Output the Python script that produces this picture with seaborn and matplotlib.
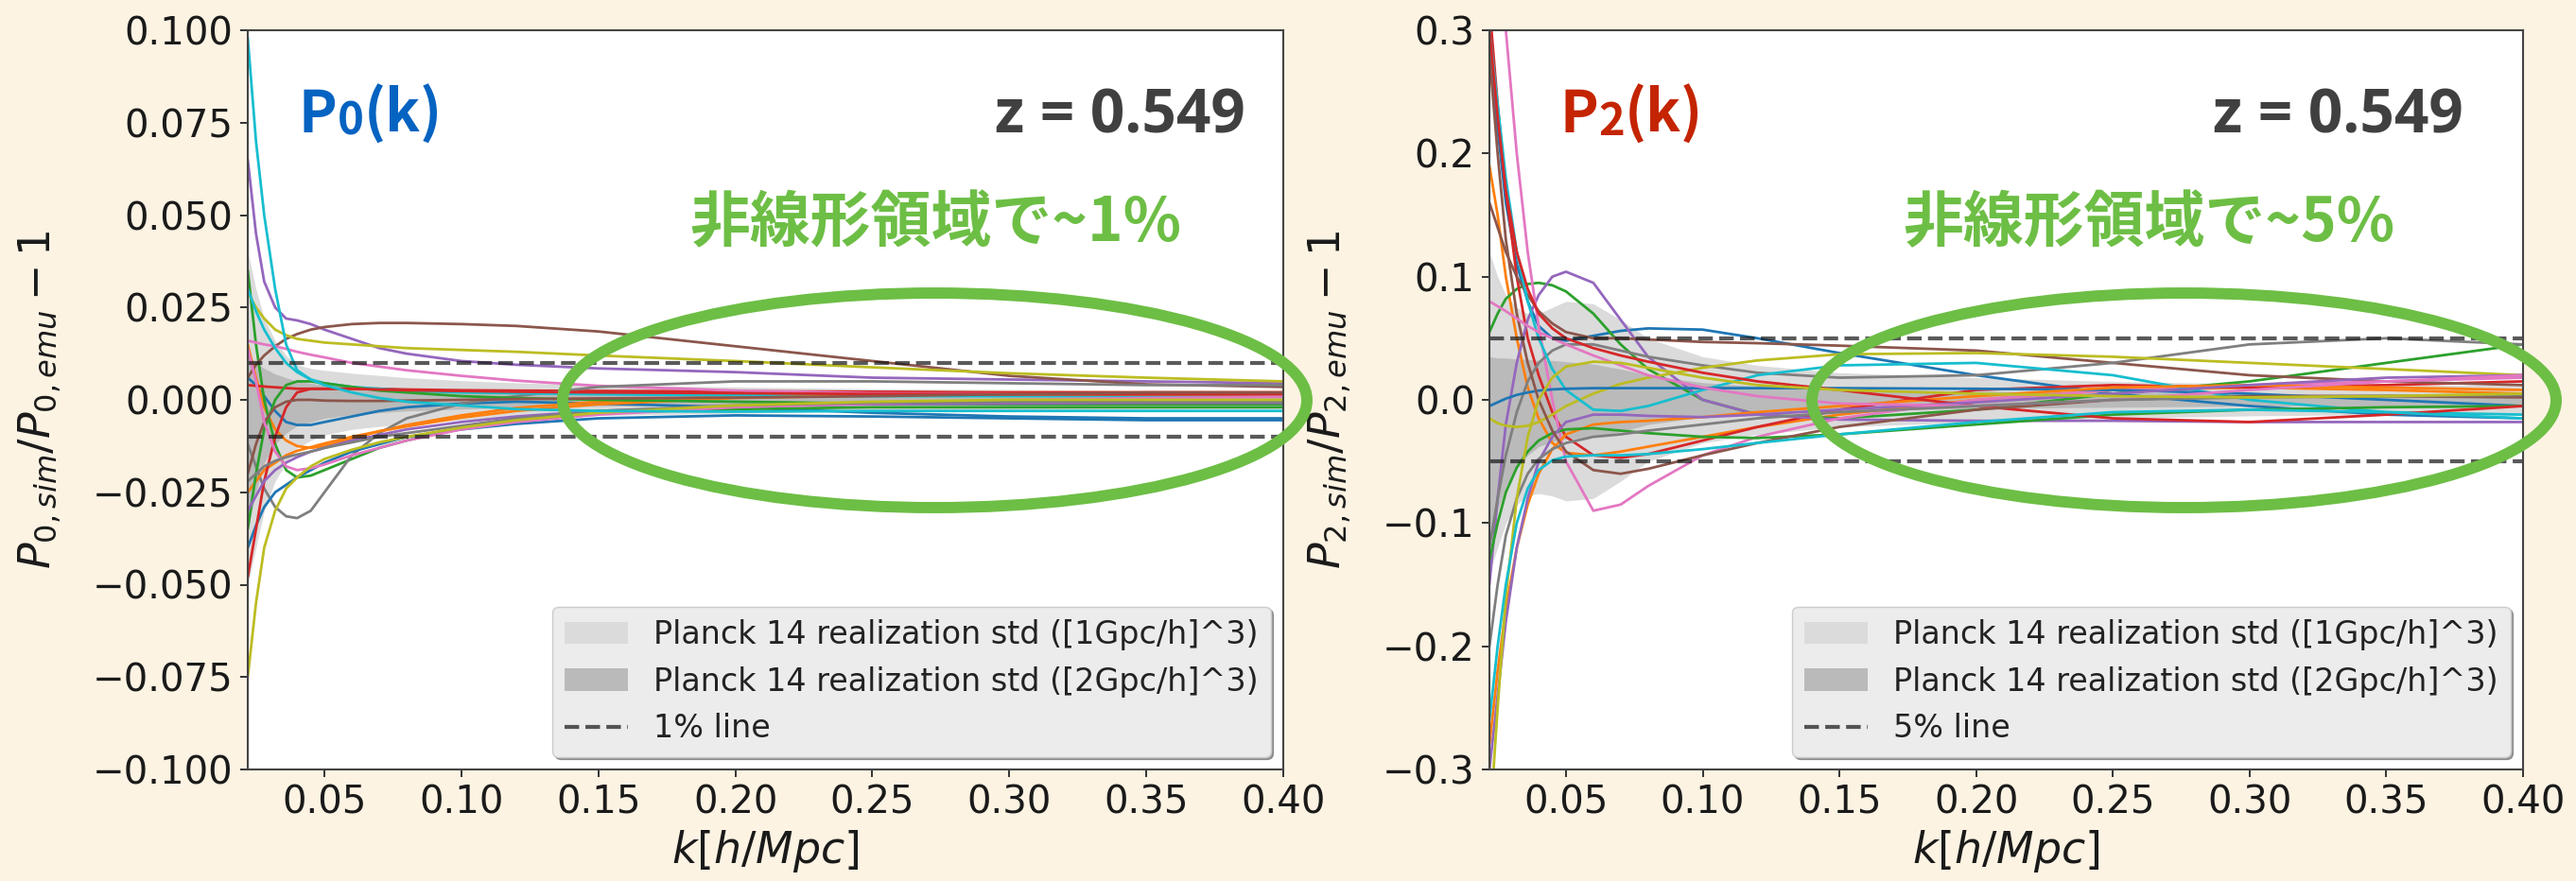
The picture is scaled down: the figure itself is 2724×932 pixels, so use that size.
import matplotlib
matplotlib.use('Agg')
import matplotlib.pyplot as plt
from matplotlib.patches import Ellipse
import numpy as np
import pandas as pd
import seaborn as sns

# wavenumber nodes shared by every curve [h/Mpc]
K = [0.022, 0.025, 0.028, 0.032, 0.036, 0.040, 0.045, 0.050, 0.060, 0.070,
     0.080, 0.100, 0.120, 0.150, 0.200, 0.250, 0.300, 0.350, 0.400]

# ---- monopole P0: sim/emu - 1 ----
p0_blue_a = [0.006, 0.004, 0.001, -0.003, -0.006, -0.0068, -0.0068, -0.006, -0.0045, -0.003,
             -0.002, -0.001, -0.0005, -0.001, -0.002, -0.0035, -0.0045, -0.005, -0.005]
p0_orange_a = [0.015, 0.006, -0.002, -0.008, -0.011, -0.0125, -0.013, -0.0125, -0.0105, -0.0085,
               -0.0068, -0.0042, -0.0022, -0.0005, 0.001, 0.0018, 0.002, 0.002, 0.002]
p0_green_a = [0.035, 0.015, 0.0, -0.012, -0.019, -0.021, -0.0205, -0.019, -0.016, -0.013,
              -0.011, -0.0075, -0.0055, -0.0035, -0.0025, -0.002, -0.002, -0.002, -0.002]
p0_red_a = [0.004, 0.0038, 0.0036, 0.0034, 0.0032, 0.003, 0.003, 0.003, 0.003, 0.003,
            0.0028, 0.0026, 0.0025, 0.0024, 0.0023, 0.0022, 0.002, 0.002, 0.002]
p0_purple_a = [0.065, 0.045, 0.032, 0.025, 0.022, 0.0215, 0.0205, 0.019, 0.0165, 0.014,
               0.0125, 0.0105, 0.0095, 0.0085, 0.0075, 0.006, 0.0055, 0.005, 0.0045]
p0_brown_a = [0.006, 0.0095, 0.012, 0.0145, 0.0165, 0.0178, 0.019, 0.0197, 0.0205, 0.0208,
              0.0208, 0.0205, 0.020, 0.0185, 0.0145, 0.0105, 0.0065, 0.0042, 0.0035]
p0_pink_a = [0.016, 0.0155, 0.015, 0.0145, 0.0138, 0.013, 0.0122, 0.0115, 0.010, 0.009,
             0.008, 0.0065, 0.0052, 0.0038, 0.0025, 0.0018, 0.0015, 0.0012, 0.0012]
p0_gray_a = [-0.012, -0.018, -0.024, -0.029, -0.0315, -0.032, -0.030, -0.025, -0.015, -0.009,
             -0.005, -0.001, 0.001, 0.0035, 0.005, 0.005, 0.0045, 0.004, 0.004]
p0_olive_a = [0.029, 0.025, 0.022, 0.019, 0.0175, 0.0165, 0.016, 0.0155, 0.015, 0.0145,
              0.014, 0.0135, 0.013, 0.012, 0.0105, 0.0088, 0.0072, 0.006, 0.005]
p0_cyan_a = [0.098, 0.070, 0.050, 0.030, 0.015, 0.008, 0.0055, 0.0045, 0.0035, 0.003,
             0.0025, 0.002, 0.0018, 0.0015, 0.0012, 0.001, 0.001, 0.001, 0.001]
p0_blue_b = [-0.040, -0.034, -0.029, -0.025, -0.023, -0.021, -0.019, -0.017, -0.014, -0.012,
             -0.010, -0.008, -0.0065, -0.005, -0.0042, -0.0045, -0.005, -0.0055, -0.0055]
p0_orange_b = [-0.025, -0.022, -0.019, -0.017, -0.015, -0.0138, -0.0128, -0.0118, -0.010, -0.0085,
               -0.0072, -0.0048, -0.003, -0.0012, 0.0005, 0.0012, 0.0015, 0.0015, 0.0015]
p0_green_b = [-0.035, -0.020, -0.008, 0.0, 0.004, 0.005, 0.005, 0.0045, 0.0035, 0.0025,
              0.002, 0.001, 0.0005, 0.0, -0.0005, -0.001, -0.0012, -0.0012, -0.0012]
p0_red_b = [-0.048, -0.035, -0.022, -0.010, -0.002, 0.002, 0.003, 0.003, 0.003, 0.0028,
            0.0026, 0.0024, 0.0022, 0.002, 0.0018, 0.0016, 0.0015, 0.0015, 0.0015]
p0_purple_b = [-0.030, -0.026, -0.022, -0.019, -0.017, -0.0155, -0.014, -0.013, -0.011, -0.0095,
               -0.008, -0.006, -0.0045, -0.003, -0.0018, -0.0012, -0.001, -0.0008, -0.0008]
p0_brown_b = [-0.020, -0.012, -0.006, -0.002, -0.0005, 0.0, 0.0, -0.0002, -0.0003, -0.0003,
              -0.0002, 0.0, 0.0002, 0.0004, 0.0006, 0.001, 0.0015, 0.002, 0.002]
p0_pink_b = [0.014, 0.005, -0.006, -0.014, -0.018, -0.019, -0.0185, -0.0175, -0.015, -0.013,
             -0.011, -0.008, -0.006, -0.004, -0.002, -0.001, 0.0, 0.0005, 0.0008]
p0_gray_b = [-0.022, -0.020, -0.018, -0.0165, -0.0155, -0.0148, -0.014, -0.013, -0.0115, -0.010,
             -0.009, -0.007, -0.005, -0.003, -0.0015, -0.0008, -0.0005, -0.0005, -0.0005]
p0_olive_b = [-0.075, -0.055, -0.040, -0.030, -0.024, -0.021, -0.018, -0.016, -0.0135, -0.0115,
              -0.010, -0.0075, -0.0055, -0.0035, -0.0015, -0.0005, 0.0, 0.0, 0.0]
p0_cyan_b = [0.030, 0.024, 0.019, 0.014, 0.010, 0.0075, 0.0055, 0.004, 0.002, 0.0005,
             -0.0005, -0.0015, -0.0025, -0.003, -0.0032, -0.003, -0.003, -0.003, -0.003]

# realization std bands for P0
p0_std1_hi = [0.040, 0.030, 0.022, 0.016, 0.012, 0.0095, 0.0085, 0.008, 0.0072, 0.0066,
              0.006, 0.0052, 0.0046, 0.004, 0.0035, 0.003, 0.0028, 0.0026, 0.0025]
p0_std1_lo = [-0.050, -0.040, -0.030, -0.022, -0.017, -0.013, -0.011, -0.0095, -0.008, -0.0072,
              -0.0065, -0.0055, -0.0048, -0.0042, -0.0036, -0.0031, -0.0028, -0.0026, -0.0025]
p0_std2_hi = [0.012, 0.010, 0.0085, 0.007, 0.006, 0.005, 0.0045, 0.004, 0.0035, 0.003,
              0.0027, 0.0023, 0.002, 0.0017, 0.0014, 0.0012, 0.0011, 0.001, 0.001]
p0_std2_lo = [-0.035, -0.025, -0.017, -0.012, -0.009, -0.007, -0.006, -0.005, -0.004, -0.0035,
              -0.003, -0.0025, -0.002, -0.0017, -0.0014, -0.0012, -0.0011, -0.001, -0.001]

# ---- quadrupole P2: sim/emu - 1 ----
p2_blue_a = [0.30, 0.22, 0.16, 0.11, 0.08, 0.06, 0.05, 0.048, 0.052, 0.056,
             0.058, 0.057, 0.05, 0.038, 0.02, 0.005, -0.005, -0.012, -0.015]
p2_orange_a = [0.19, 0.15, 0.10, 0.05, 0.01, -0.015, -0.035, -0.043, -0.045, -0.042,
               -0.038, -0.03, -0.022, -0.012, 0.0, 0.008, 0.01, 0.008, 0.005]
p2_green_a = [0.055, 0.07, 0.082, 0.09, 0.094, 0.095, 0.093, 0.088, 0.07, 0.045,
              0.025, 0.0, -0.012, -0.015, -0.008, 0.005, 0.015, 0.03, 0.045]
p2_red_a = [0.32, 0.24, 0.17, 0.10, 0.05, 0.02, -0.01, -0.03, -0.045, -0.047,
            -0.044, -0.033, -0.022, -0.008, 0.008, 0.012, 0.01, 0.012, 0.015]
p2_purple_a = [-0.15, -0.08, -0.02, 0.03, 0.065, 0.085, 0.10, 0.104, 0.095, 0.065,
               0.035, 0.0, -0.012, -0.016, -0.017, -0.017, -0.018, -0.018, -0.018]
p2_brown_a = [0.16, 0.14, 0.12, 0.10, 0.085, 0.072, 0.062, 0.055, 0.05, 0.05,
              0.049, 0.047, 0.046, 0.044, 0.04, 0.03, 0.02, 0.015, 0.012]
p2_pink_a = [0.45, 0.38, 0.30, 0.20, 0.12, 0.06, 0.0, -0.05, -0.09, -0.085,
             -0.07, -0.045, -0.03, -0.015, 0.0, 0.008, 0.012, 0.015, 0.018]
p2_gray_a = [-0.12, -0.08, -0.045, -0.01, 0.015, 0.03, 0.04, 0.045, 0.045, 0.04,
             0.035, 0.028, 0.022, 0.018, 0.02, 0.03, 0.045, 0.05, 0.045]
p2_olive_a = [-0.015, -0.019, -0.021, -0.022, -0.021, -0.018, -0.012, -0.005, 0.005, 0.013,
              0.018, 0.026, 0.032, 0.037, 0.038, 0.035, 0.03, 0.025, 0.02]
p2_cyan_a = [0.30, 0.24, 0.18, 0.12, 0.08, 0.05, 0.025, 0.008, -0.008, -0.009,
             -0.005, 0.008, 0.02, 0.028, 0.03, 0.02, 0.0, -0.01, -0.012]
p2_blue_b = [-0.005, -0.002, 0.001, 0.004, 0.006, 0.0075, 0.0085, 0.009, 0.0095, 0.0095,
             0.0095, 0.0095, 0.0095, 0.0095, 0.009, 0.008, 0.005, 0.0, -0.005]
p2_orange_b = [-0.28, -0.22, -0.17, -0.12, -0.085, -0.06, -0.04, -0.028, -0.02, -0.018,
               -0.017, -0.014, -0.01, -0.005, 0.003, 0.01, 0.012, 0.01, 0.008]
p2_green_b = [-0.13, -0.10, -0.075, -0.055, -0.042, -0.033, -0.027, -0.024, -0.023, -0.025,
              -0.027, -0.03, -0.031, -0.028, -0.02, -0.012, -0.008, -0.006, -0.005]
p2_red_b = [0.30, 0.23, 0.17, 0.12, 0.09, 0.07, 0.058, 0.05, 0.042, 0.036,
            0.031, 0.022, 0.015, 0.008, -0.005, -0.015, -0.018, -0.012, -0.005]
p2_purple_b = [-0.30, -0.24, -0.18, -0.12, -0.08, -0.05, -0.03, -0.018, -0.012, -0.012,
               -0.013, -0.014, -0.012, -0.008, -0.002, 0.005, 0.012, 0.018, 0.02]
p2_brown_b = [0.28, 0.20, 0.13, 0.07, 0.03, 0.0, -0.025, -0.042, -0.057, -0.06,
              -0.056, -0.045, -0.035, -0.022, -0.008, 0.0, 0.003, 0.003, 0.002]
p2_pink_b = [0.08, 0.076, 0.072, 0.066, 0.06, 0.055, 0.05, 0.045, 0.036, 0.028,
             0.02, 0.01, 0.003, -0.003, -0.005, 0.0, 0.008, 0.015, 0.02]
p2_gray_b = [-0.20, -0.15, -0.11, -0.08, -0.06, -0.048, -0.04, -0.035, -0.03, -0.028,
             -0.025, -0.02, -0.015, -0.01, -0.005, 0.0, 0.002, 0.003, 0.004]
p2_olive_b = [-0.35, -0.25, -0.16, -0.08, -0.03, 0.0, 0.018, 0.027, 0.031, 0.03,
              0.026, 0.018, 0.012, 0.008, 0.005, 0.003, 0.002, 0.003, 0.005]
p2_cyan_b = [-0.26, -0.20, -0.15, -0.10, -0.072, -0.057, -0.049, -0.046, -0.045, -0.045,
             -0.044, -0.04, -0.035, -0.028, -0.018, -0.01, -0.008, -0.01, -0.015]

p2_std1_hi = [0.12, 0.10, 0.085, 0.075, 0.07, 0.07, 0.075, 0.08, 0.078, 0.065,
              0.05, 0.035, 0.028, 0.022, 0.018, 0.015, 0.013, 0.012, 0.012]
p2_std1_lo = [-0.14, -0.12, -0.10, -0.085, -0.078, -0.076, -0.078, -0.082, -0.08, -0.066,
              -0.05, -0.035, -0.028, -0.022, -0.018, -0.015, -0.013, -0.012, -0.012]
p2_std2_hi = [0.035, 0.034, 0.034, 0.033, 0.033, 0.032, 0.032, 0.031, 0.029, 0.025,
              0.02, 0.014, 0.011, 0.009, 0.007, 0.006, 0.005, 0.005, 0.005]
p2_std2_lo = [-0.12, -0.09, -0.07, -0.055, -0.045, -0.038, -0.034, -0.032, -0.03, -0.026,
              -0.02, -0.014, -0.011, -0.009, -0.007, -0.006, -0.005, -0.005, -0.005]

P0_LIST = [p0_blue_a, p0_orange_a, p0_green_a, p0_red_a, p0_purple_a, p0_brown_a, p0_pink_a,
           p0_gray_a, p0_olive_a, p0_cyan_a, p0_blue_b, p0_orange_b, p0_green_b, p0_red_b,
           p0_purple_b, p0_brown_b, p0_pink_b, p0_gray_b, p0_olive_b, p0_cyan_b]
P2_LIST = [p2_blue_a, p2_orange_a, p2_green_a, p2_red_a, p2_purple_a, p2_brown_a, p2_pink_a,
           p2_gray_a, p2_olive_a, p2_cyan_a, p2_blue_b, p2_orange_b, p2_green_b, p2_red_b,
           p2_purple_b, p2_brown_b, p2_pink_b, p2_gray_b, p2_olive_b, p2_cyan_b]

P0_YTICKS = [-0.100, -0.075, -0.050, -0.025, 0.000, 0.025, 0.050, 0.075, 0.100]
P2_YTICKS = [-0.3, -0.2, -0.1, 0.0, 0.1, 0.2, 0.3]
XTICKS = [0.05, 0.10, 0.15, 0.20, 0.25, 0.30, 0.35, 0.40]

BG = '#FDF3E3'
GREEN = '#6DBE45'

sns.set_theme(style='white')
plt.rcParams['font.family'] = ['DejaVu Sans']
plt.rcParams['axes.unicode_minus'] = True


def to_long(curves):
    rows = []
    for i, vals in enumerate(curves):
        for k, v in zip(K, vals):
            rows.append({'k': k, 'r': v, 'run': i})
    return pd.DataFrame(rows)


def draw_panel(ax, curves, s1lo, s1hi, s2lo, s2hi, level, line_label, ylim, yticks, fmt, ylabel):
    ax.set_facecolor('white')
    ax.fill_between(K, s1lo, s1hi, color='#DBDBDB', lw=0,
                    label='Planck 14 realization std ([1Gpc/h]^3)')
    ax.fill_between(K, s2lo, s2hi, color='#BABABA', lw=0,
                    label='Planck 14 realization std ([2Gpc/h]^3)')
    pal = sns.color_palette('tab10', 10) * 2
    sns.lineplot(data=to_long(curves), x='k', y='r', hue='run', palette=pal,
                 estimator=None, sort=False, legend=False, linewidth=2.0, ax=ax)
    ax.axhline(level, color='k', ls='--', lw=3.0, alpha=0.72, label=line_label)
    ax.axhline(-level, color='k', ls='--', lw=3.0, alpha=0.72)
    ax.set_xlim(0.022, 0.40)
    ax.set_ylim(*ylim)
    ax.set_xticks(XTICKS)
    ax.set_xticklabels([f'{t:.2f}' for t in XTICKS])
    ax.set_yticks(yticks)
    ax.set_yticklabels([fmt.format(t).replace('-', '\u2212') for t in yticks])
    ax.tick_params(axis='both', labelsize=29, length=6, width=1.4, color='#333333',
                   labelcolor='#1a1a1a', bottom=True, left=True, pad=5)
    for sp in ax.spines.values():
        sp.set_color('#444444')
        sp.set_linewidth(1.5)
    ax.set_xlabel(r'$k[h/Mpc]$', fontsize=33, color='#1a1a1a', labelpad=5)
    ax.set_ylabel(ylabel, fontsize=33, color='#1a1a1a')
    leg = ax.legend(loc='lower right', fontsize=24, shadow=True, fancybox=True,
                    facecolor='#ECECEC', edgecolor='#CCCCCC', framealpha=1,
                    borderaxespad=0.4, handlelength=2.0)
    for t in leg.get_texts():
        t.set_color('#222222')


def tag(ax, x, y, main, sub, color):
    t1 = ax.text(x, y, main, transform=ax.transAxes, fontsize=44, fontweight='bold',
                 color=color, family=['Noto Sans CJK JP'], va='baseline')
    t2 = ax.annotate(sub, xy=(1, 0), xycoords=t1, fontsize=34, fontweight='bold',
                     color=color, family=['Noto Sans CJK JP'], va='bottom')
    ax.annotate('(k)', xy=(1, 0), xycoords=t2, fontsize=44, fontweight='bold',
                color=color, family=['Noto Sans CJK JP'], va='bottom')


fig = plt.figure(figsize=(27.24, 9.32), dpi=100, facecolor=BG)
ax0 = fig.add_axes([262 / 2724, 118 / 932, 1095 / 2724, 782 / 932])
ax1 = fig.add_axes([1575 / 2724, 118 / 932, 1093 / 2724, 782 / 932])

draw_panel(ax0, P0_LIST, p0_std1_lo, p0_std1_hi, p0_std2_lo, p0_std2_hi, 0.01, '1% line',
           (-0.1, 0.1), P0_YTICKS, '{:.3f}', r'$P_{0,sim}/P_{0,emu}-1$')
draw_panel(ax1, P2_LIST, p2_std1_lo, p2_std1_hi, p2_std2_lo, p2_std2_hi, 0.05, '5% line',
           (-0.3, 0.3), P2_YTICKS, '{:.1f}', r'$P_{2,sim}/P_{2,emu}-1$')
# ylabel anchor is the right-hand edge of the rotated text
ax0.yaxis.set_label_coords(-0.178, 0.5)
ax1.yaxis.set_label_coords(-0.132, 0.5)

# panel annotations
tag(ax0, 0.049, 0.862, 'P', '0', '#0563C1')
tag(ax1, 0.068, 0.862, 'P', '2', '#C42400')
for ax, xr in [(ax0, 0.9635), (ax1, 0.942)]:
    ax.text(xr, 0.861, 'z = 0.549', transform=ax.transAxes, ha='right', va='baseline',
            fontsize=46, fontweight='bold', color='#404040', family=['Open Sans', 'DejaVu Sans'])
ax0.text(0.902, 0.739, '非線形領域で~1%', transform=ax0.transAxes, ha='right', va='center',
         fontsize=46, fontweight='bold', color=GREEN, family=['Noto Sans CJK JP', 'DejaVu Sans'])
ax1.text(0.876, 0.739, '非線形領域で~5%', transform=ax1.transAxes, ha='right', va='center',
         fontsize=46, fontweight='bold', color=GREEN, family=['Noto Sans CJK JP', 'DejaVu Sans'])

# highlight ellipses (drawn in figure coordinates, crossing the axes edge)
for cx in [988.5, 2309.5]:
    fig.add_artist(Ellipse((cx / 2724, 1 - 423.5 / 932), 787 / 2724, 227 / 932,
                           transform=fig.transFigure, fill=False, edgecolor=GREEN,
                           linewidth=8.6, zorder=10))

fig.savefig('out.png', dpi=100, facecolor=BG)
